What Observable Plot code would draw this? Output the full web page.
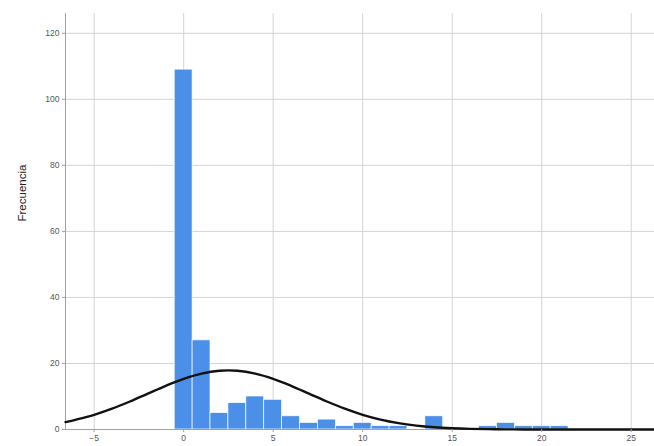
<!DOCTYPE html>
<html>
<head>
<meta charset="utf-8">
<script src="https://cdn.jsdelivr.net/npm/d3@7"></script>
<script src="https://cdn.jsdelivr.net/npm/@observablehq/plot@0.6"></script>
<style>
  html, body { margin: 0; padding: 0; background: #fff; }
  #chart { width: 654px; height: 446px; }
  svg { font-family: "Liberation Sans", Arial, sans-serif; }
</style>
</head>
<body>
<div id="chart"></div>
<script>
// Histogram bins (centered on integers) and their counts
const binCenters = [0, 1, 2, 3, 4, 5, 6, 7, 8, 9, 10, 11, 12, 14, 17, 18, 19, 20, 21];
const binCounts  = [109, 27, 5, 8, 10, 9, 4, 2, 3, 1, 2, 1, 1, 4, 1, 2, 1, 1, 1];

// Normal curve
const curveX = [-6.6, -6, -5, -4, -3, -2, -1, 0, 1, 2, 3, 4, 5, 6, 7, 8, 9, 10, 11, 12, 13, 14, 15, 16, 17, 18, 19, 20, 21, 22, 23, 24, 25, 26.3];
const curveY = [2.25, 3.01, 4.46, 6.31, 8.48, 10.86, 13.23, 15.34, 16.93, 17.79, 17.79, 16.93, 15.34, 13.23, 10.86, 8.48, 6.31, 4.46, 3.01, 1.93, 1.18, 0.68, 0.38, 0.20, 0.10, 0.05, 0.02, 0.01, 0, 0, 0, 0, 0, 0];

const xTicks = [-5, 0, 5, 10, 15, 20, 25];
const yTicks = [0, 20, 40, 60, 80, 100, 120];
const yLabel = "Frecuencia";

const bars = binCenters.map((c, i) => ({x1: c - 0.5, x2: c + 0.5, count: binCounts[i]}));
const curve = curveX.map((x, i) => ({x, y: curveY[i]}));

const chart = Plot.plot({
  width: 654,
  height: 446,
  marginLeft: 65,
  marginRight: 0,
  marginTop: 13,
  marginBottom: 17,
  style: {fontFamily: "Liberation Sans, Arial, sans-serif", background: "#fff"},
  x: {domain: [-6.6, 26.3]},
  y: {domain: [0, 126]},
  marks: [
    Plot.gridX(xTicks, {stroke: "#d4d4d4", strokeOpacity: 1, strokeWidth: 1}),
    Plot.gridY(yTicks, {stroke: "#d4d4d4", strokeOpacity: 1, strokeWidth: 1}),
    Plot.rectY(bars, {x1: "x1", x2: "x2", y: "count", fill: "#4c8fe8", stroke: "#ffffff", strokeWidth: 0.7}),
    Plot.ruleX([-6.6], {stroke: "#a0a0a0", strokeWidth: 1}),
    Plot.ruleY([0], {stroke: "#a0a0a0", strokeWidth: 1}),
    Plot.line(curve, {x: "x", y: "y", stroke: "#111", strokeWidth: 2.4, curve: "catmull-rom"}),
    Plot.axisX(xTicks, {tickSize: 3, stroke: "#a0a0a0", fill: "#555", fontSize: 8.5, tickPadding: 2, label: null}),
    Plot.axisY(yTicks, {tickSize: 3, stroke: "#a0a0a0", fill: "#555", fontSize: 8.5, tickPadding: 3, label: null}),
    Plot.text([yLabel], {frameAnchor: "left", rotate: -90, dx: -43, fontSize: 11.5, fill: "#222"})
  ]
});
document.getElementById("chart").appendChild(chart);
</script>
</body>
</html>
